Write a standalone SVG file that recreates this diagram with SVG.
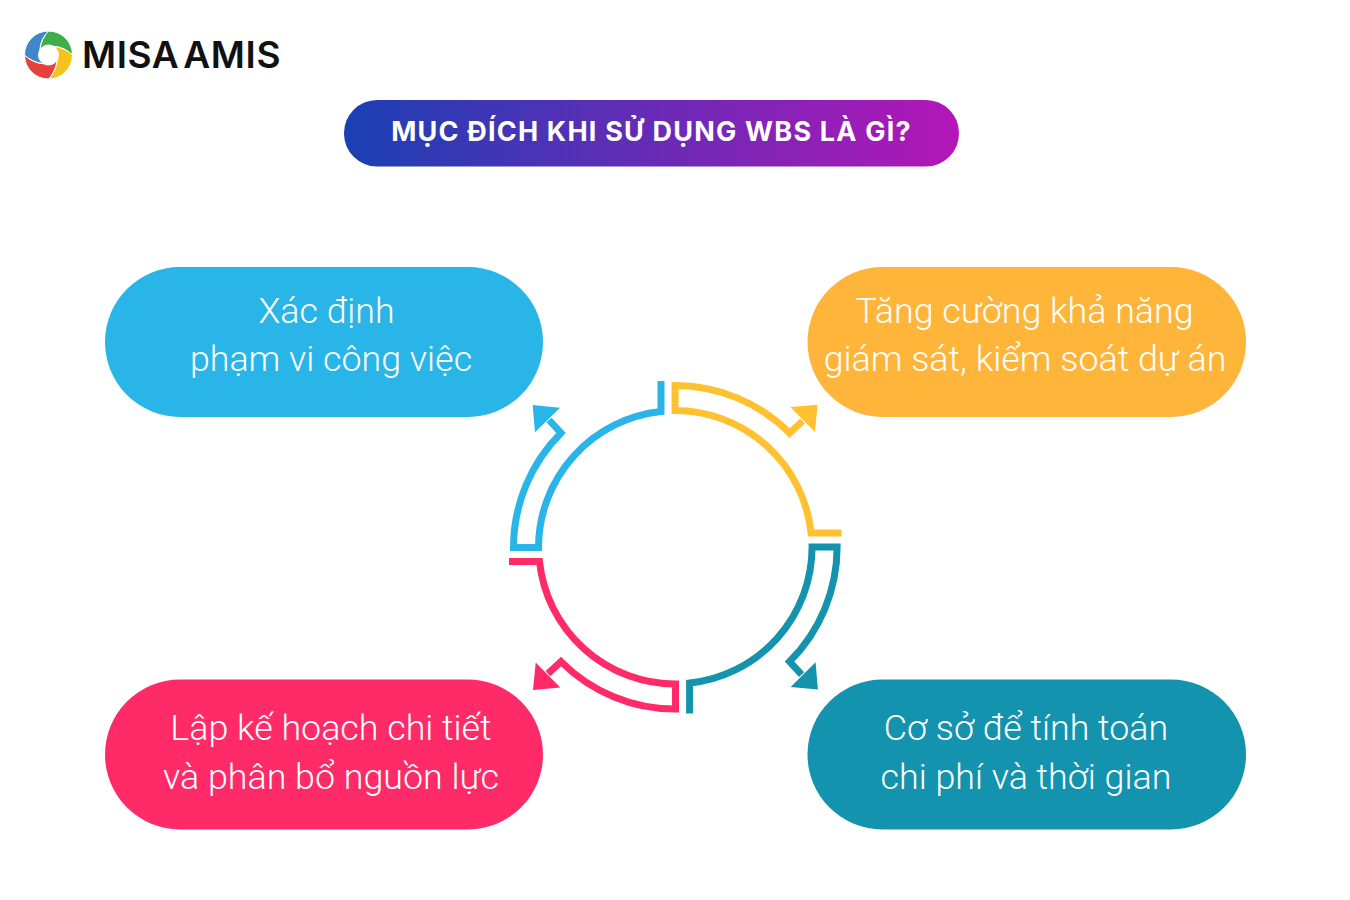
<svg xmlns="http://www.w3.org/2000/svg" width="1350" height="900" viewBox="0 0 1350 900">
<defs>
<linearGradient id="pill" x1="0" y1="0" x2="1" y2="0"><stop offset="0" stop-color="#1A40B4"/><stop offset="1" stop-color="#B416B8"/></linearGradient>
<path id="blade" stroke="#fff" stroke-width="1" d="M0 -24A24 24 0 0 1 24 0Q16 -8 5 -8.700A10 10 0 0 0 -8.700 -5Q-7 -17 0 -24Z"/>
</defs>
<style>
.t{font-family:"Roboto","Liberation Sans",sans-serif;font-weight:300;font-size:35.800px;fill:#fff;text-anchor:middle}
.arc{fill:none;stroke-width:7}
.head{stroke:none}
</style>
<rect width="1350" height="900" fill="#fff"/>
<g id="logo">
<use href="#blade" transform="translate(48.500 55)" fill="#3FAE4A"/>
<use href="#blade" transform="translate(48.500 55) rotate(90)" fill="#F7C21C"/>
<use href="#blade" transform="translate(48.500 55) rotate(180)" fill="#E8413C"/>
<use href="#blade" transform="translate(48.500 55) rotate(270)" fill="#3E87C8"/>
<text x="82" y="68" font-family="Inter,'Liberation Sans',sans-serif" font-weight="600" font-size="37" letter-spacing="0.6" word-spacing="-6" fill="#111">MISA AMIS</text>
</g>
<g id="title">
<rect x="344" y="100" width="615" height="66.500" rx="33" fill="url(#pill)"/>
<text x="651.500" y="141" font-family="Inter,'Open Sans',sans-serif" font-weight="700" font-size="27" letter-spacing="1.200" fill="#fff" text-anchor="middle">MỤC ĐÍCH KHI SỬ DỤNG WBS LÀ GÌ?</text>
</g>
<g id="connectors">
<g id="c-blue">
<path class="arc" stroke="#29B5E8" d="M661 381V411.500A137 137 0 0 0 538.500 547.500H513.500A162 162 0 0 1 561 433L549 420"/>
<path class="head" fill="#29B5E8" d="M532.700 405L560 407.700L535 432.300Z"/>
</g>
<g id="c-yellow" transform="rotate(90 675.300 547.300)">
<path class="arc" stroke="#FFC130" d="M661 381V411.500A137 137 0 0 0 538.500 547.500H513.500A162 162 0 0 1 561 433L549 420"/>
<path class="head" fill="#FFC130" d="M532.700 405L560 407.700L535 432.300Z"/>
</g>
<g id="c-teal" transform="rotate(180 675.300 547.300)">
<path class="arc" stroke="#1393AD" d="M661 381V411.500A137 137 0 0 0 538.500 547.500H513.500A162 162 0 0 1 561 433L549 420"/>
<path class="head" fill="#1393AD" d="M532.700 405L560 407.700L535 432.300Z"/>
</g>
<g id="c-pink" transform="rotate(270 675.300 547.300)">
<path class="arc" stroke="#FF2A68" d="M661 381V411.500A137 137 0 0 0 538.500 547.500H513.500A162 162 0 0 1 561 433L549 420"/>
<path class="head" fill="#FF2A68" d="M532.700 405L560 407.700L535 432.300Z"/>
</g>
</g>
<g id="n-blue">
<rect x="105" y="267" width="438" height="150" rx="75" fill="#29B5E8"/>
<text class="t" x="326.500" y="323">Xác định</text>
<text class="t" x="331" y="371">phạm vi công việc</text>
</g>
<g id="n-orange">
<rect x="807.500" y="267" width="438.500" height="150" rx="75" fill="#FFB53A"/>
<text class="t" x="1024.500" y="323">Tăng cường khả năng</text>
<text class="t" x="1025" y="371">giám sát, kiểm soát dự án</text>
</g>
<g id="n-pink">
<rect x="105" y="679.500" width="438" height="150" rx="75" fill="#FF2A68"/>
<text class="t" x="331" y="740">Lập kế hoạch chi tiết</text>
<text class="t" x="331" y="789">và phân bổ nguồn lực</text>
</g>
<g id="n-teal">
<rect x="807.500" y="679.500" width="438.500" height="150" rx="75" fill="#1393AD"/>
<text class="t" x="1026" y="740">Cơ sở để tính toán</text>
<text class="t" x="1026" y="789">chi phí và thời gian</text>
</g>
</svg>
